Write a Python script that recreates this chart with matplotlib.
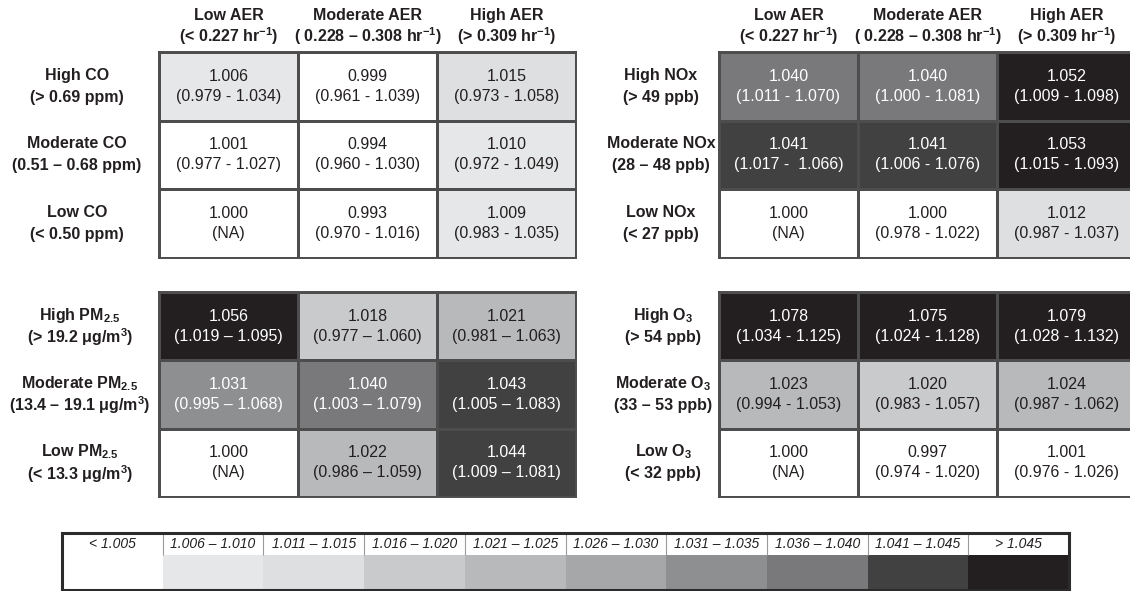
import numpy as np
import matplotlib
matplotlib.use('Agg')
import matplotlib.pyplot as plt
from matplotlib.colors import ListedColormap, BoundaryNorm

plt.rcParams['font.family'] = 'Liberation Sans'
plt.rcParams['mathtext.fontset'] = 'custom'
plt.rcParams['mathtext.rm'] = 'Liberation Sans'
plt.rcParams['mathtext.bf'] = 'Liberation Sans:bold'
plt.rcParams['mathtext.it'] = 'Liberation Sans:italic'
plt.rcParams['mathtext.default'] = 'bf'

# column headers (air exchange rate tertiles)
aer_names = ['Low AER', 'Moderate AER', 'High AER']
aer_ranges = [r'(< 0.227 hr$^{-1}$)', r'( 0.228 – 0.308 hr$^{-1}$)', r'(> 0.309 hr$^{-1}$)']

# odds ratios and confidence intervals, rows = high / moderate / low pollutant
co_names = ['High CO', 'Moderate CO', 'Low CO']
co_ranges = ['(> 0.69 ppm)', '(0.51 – 0.68 ppm)', '(< 0.50 ppm)']
co_or = [[1.006, 0.999, 1.015],
         [1.001, 0.994, 1.010],
         [1.000, 0.993, 1.009]]
co_ci = [['(0.979 - 1.034)', '(0.961 - 1.039)', '(0.973 - 1.058)'],
         ['(0.977 - 1.027)', '(0.960 - 1.030)', '(0.972 - 1.049)'],
         ['(NA)', '(0.970 - 1.016)', '(0.983 - 1.035)']]

nox_names = ['High NOx', 'Moderate NOx', 'Low NOx']
nox_ranges = ['(> 49 ppb)', '(28 – 48 ppb)', '(< 27 ppb)']
nox_or = [[1.040, 1.040, 1.052],
          [1.041, 1.041, 1.053],
          [1.000, 1.000, 1.012]]
nox_ci = [['(1.011 - 1.070)', '(1.000 - 1.081)', '(1.009 - 1.098)'],
          ['(1.017 -  1.066)', '(1.006 - 1.076)', '(1.015 - 1.093)'],
          ['(NA)', '(0.978 - 1.022)', '(0.987 - 1.037)']]

pm_names = [r'High PM$_{2.5}$', r'Moderate PM$_{2.5}$', r'Low PM$_{2.5}$']
pm_ranges = [r'(> 19.2 μg/m$^{3}$)', r'(13.4 – 19.1 μg/m$^{3}$)', r'(< 13.3 μg/m$^{3}$)']
pm_or = [[1.056, 1.018, 1.021],
         [1.031, 1.040, 1.043],
         [1.000, 1.022, 1.044]]
pm_ci = [['(1.019 – 1.095)', '(0.977 – 1.060)', '(0.981 – 1.063)'],
         ['(0.995 – 1.068)', '(1.003 – 1.079)', '(1.005 – 1.083)'],
         ['(NA)', '(0.986 – 1.059)', '(1.009 – 1.081)']]

o3_names = [r'High O$_{3}$', r'Moderate O$_{3}$', r'Low O$_{3}$']
o3_ranges = ['(> 54 ppb)', '(33 – 53 ppb)', '(< 32 ppb)']
o3_or = [[1.078, 1.075, 1.079],
         [1.023, 1.020, 1.024],
         [1.000, 0.997, 1.001]]
o3_ci = [['(1.034 - 1.125)', '(1.024 - 1.128)', '(1.028 - 1.132)'],
         ['(0.994 - 1.053)', '(0.983 - 1.057)', '(0.987 - 1.062)'],
         ['(NA)', '(0.974 - 1.020)', '(0.976 - 1.026)']]

# shading scale
bin_labels = ['< 1.005', '1.006 – 1.010', '1.011 – 1.015', '1.016 – 1.020', '1.021 – 1.025',
              '1.026 – 1.030', '1.031 – 1.035', '1.036 – 1.040', '1.041 – 1.045', '> 1.045']
bin_edges = [0.9, 1.0055, 1.0105, 1.0155, 1.0205, 1.0255, 1.0305, 1.0355, 1.0405, 1.0455, 1.3]
bin_colors = ['#ffffff', '#e6e7e8', '#dedfe0', '#c9cacc', '#b8b9bb',
              '#a6a7a9', '#8e8f91', '#79797b', '#414142', '#231f20']

cmap = ListedColormap(bin_colors)
norm = BoundaryNorm(bin_edges, len(bin_colors))

W, H = 1130, 591
CW = 139          # cell width in px
EDGE = '#4d4d4d'
TXT = '#231f20'

fig = plt.figure(figsize=(W / 100, H / 100), dpi=100)


def panel(x0, y0, h, names, ranges, ors, cis, label_x, headers=False):
    ax = fig.add_axes([x0 / W, 1 - (y0 + h) / H, 3 * CW / W, h / H])
    vals = np.array(ors)
    ax.pcolormesh(vals, cmap=cmap, norm=norm, edgecolors=EDGE, linewidth=1.0)
    ax.set_xlim(0, 3)
    ax.set_ylim(3, 0)
    ax.set_xticks([])
    ax.set_yticks([])
    for s in ax.spines.values():
        s.set_color(EDGE)
        s.set_linewidth(1.4)
    dy = 10 / (h / 3)
    for i in range(3):
        for j in range(3):
            v = vals[i, j]
            c = 'white' if v > 1.0305 else TXT
            ax.text(j + 0.5, i + 0.5 - dy, f'{v:.3f}', ha='center', va='center',
                    fontsize=11.5, color=c)
            ax.text(j + 0.5, i + 0.5 + dy, cis[i][j], ha='center', va='center',
                    fontsize=11.5, color=c)
    # row labels
    lx = (label_x - x0) / (3 * CW)
    tr = ax.get_yaxis_transform()
    for i in range(3):
        ax.text(lx, i + 0.5 - 1.1 * dy, names[i], transform=tr, ha='center', va='center',
                fontsize=11.5, fontweight='bold', color=TXT)
        ax.text(lx, i + 0.5 + 1.1 * dy, ranges[i], transform=tr, ha='center', va='center',
                fontsize=11.5, fontweight='bold', color=TXT)
    if headers:
        for j in range(3):
            ax.text(j + 0.5, (16 - y0) / (h / 3), aer_names[j], ha='center', va='center',
                    fontsize=11.5, fontweight='bold', color=TXT)
            ax.text(j + 0.5, (36 - y0) / (h / 3), aer_ranges[j], ha='center', va='center',
                    fontsize=11.5, fontweight='bold', color=TXT)
    return ax


panel(159, 52, 206, co_names, co_ranges, co_or, co_ci, 77, headers=True)
panel(719, 52, 206, nox_names, nox_ranges, nox_or, nox_ci, 661, headers=True)
panel(159, 292, 205, pm_names, pm_ranges, pm_or, pm_ci, 80)
panel(719, 292, 205, o3_names, o3_ranges, o3_or, o3_ci, 663)

# shading key
lg = fig.add_axes([62 / W, 1 - 590 / H, 1007 / W, 57 / H])
n = len(bin_labels)
xe = np.arange(n + 1)
ye = np.array([1.0, 2.6])
lg.pcolormesh(xe, ye, np.arange(n).reshape(1, -1), cmap=ListedColormap(bin_colors),
              norm=BoundaryNorm(np.arange(-0.5, n), n))
lg.vlines(xe[1:-1], 0, 1, color='#9a9a9a', linewidth=0.8)
lg.set_xlim(0, n)
lg.set_ylim(2.6, 0)
lg.set_xticks([])
lg.set_yticks([])
for s in lg.spines.values():
    s.set_color('#2b2b2b')
    s.set_linewidth(2.2)
for k, lab in enumerate(bin_labels):
    lg.text(k + 0.5, 0.5, lab, ha='center', va='center', fontsize=10,
            fontstyle='italic', color=TXT)

fig.savefig('out.png', dpi=100, facecolor='white')
